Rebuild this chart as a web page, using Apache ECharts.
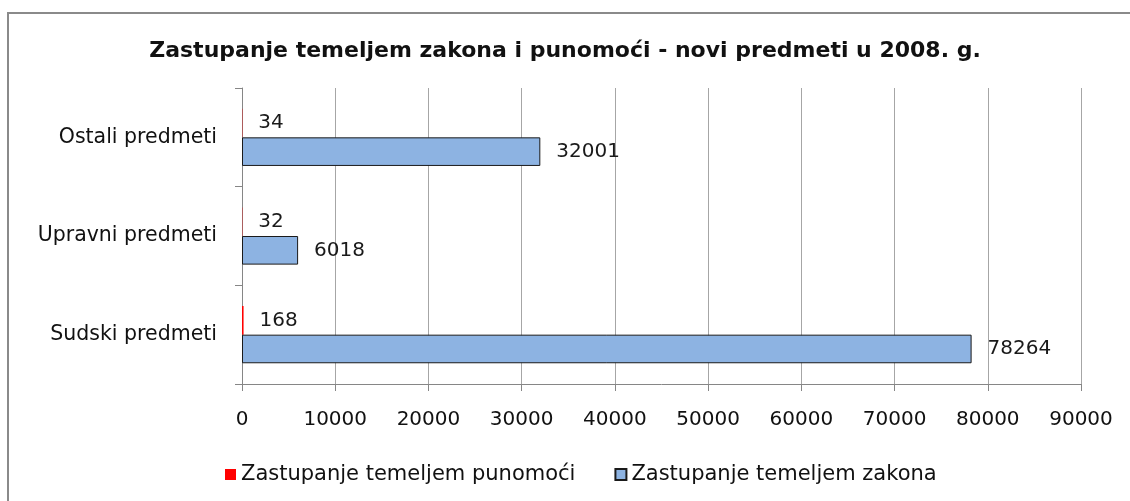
<!DOCTYPE html>
<html>
<head>
<meta charset="utf-8">
<title>Zastupanje temeljem zakona i punomoći</title>
<script src="https://cdn.jsdelivr.net/npm/echarts@6/dist/echarts.min.js"></script>
<style>
  html, body { margin: 0; padding: 0; background: #fff; }
  #chart { width: 1130px; height: 501px; }
</style>
</head>
<body>
<div id="chart"></div>
<script>
// Categories, bottom to top on the vertical axis
const categories = ['Sudski predmeti', 'Upravni predmeti', 'Ostali predmeti'];
// New cases in 2008, by type of representation
const punomociValues = [168, 32, 34];
const zakonaValues = [78264, 6018, 32001];
const seriesNames = ['Zastupanje temeljem punomoći', 'Zastupanje temeljem zakona'];
const titleText = 'Zastupanje temeljem zakona i punomoći - novi predmeti u 2008. g.';

const FONT = '"DejaVu Sans", Verdana, sans-serif';
const chart = echarts.init(document.getElementById('chart'), null, { renderer: 'canvas' });

const labelStyle = {
  show: true,
  position: 'right',
  distance: 16,
  color: '#1a1a1a',
  fontFamily: FONT,
  fontSize: 20
};

chart.setOption({
  backgroundColor: '#ffffff',
  animation: false,
  title: {
    text: titleText,
    left: 'center',
    top: 35,
    textStyle: { fontFamily: FONT, fontSize: 22, fontWeight: 'bold', color: '#111' }
  },
  graphic: [{
    type: 'rect',
    shape: { x: 8, y: 13, width: 1200, height: 600 },
    style: { fill: 'none', stroke: '#8a8a8a', lineWidth: 2 },
    silent: true
  }],
  legend: {
    left: 220,
    top: 459,
    icon: 'rect',
    itemWidth: 11,
    itemHeight: 11,
    itemGap: 39,
    textStyle: { fontFamily: FONT, fontSize: 21, color: '#111' },
    data: seriesNames
  },
  grid: { left: 242, right: 49, top: 88, bottom: 117, containLabel: false },
  xAxis: {
    type: 'value',
    min: 0,
    max: 90000,
    interval: 10000,
    axisLine: { show: true, lineStyle: { color: '#868686', width: 1 } },
    axisTick: { show: true, length: 7, lineStyle: { color: '#868686' } },
    splitLine: { show: true, lineStyle: { color: '#a6a6a6', width: 1 } },
    axisLabel: {
      margin: 26, fontFamily: FONT, fontSize: 20, color: '#111',
      formatter: (v) => String(v)
    }
  },
  yAxis: {
    type: 'category',
    data: categories,
    axisLine: { show: true, lineStyle: { color: '#868686', width: 1 } },
    axisTick: { show: true, length: 7, lineStyle: { color: '#868686' } },
    axisLabel: { margin: 25, fontFamily: FONT, fontSize: 20.5, color: '#111' }
  },
  series: [
    {
      name: seriesNames[0],
      type: 'bar',
      data: punomociValues,
      barGap: '0%',
      barCategoryGap: '42%',
      itemStyle: { color: '#ff0000' },
      label: labelStyle
    },
    {
      name: seriesNames[1],
      type: 'bar',
      data: zakonaValues,
      barGap: '0%',
      barCategoryGap: '42%',
      itemStyle: { color: '#8db3e2', borderColor: '#1a1a1a', borderWidth: 1 },
      label: labelStyle
    }
  ]
});
</script>
</body>
</html>
